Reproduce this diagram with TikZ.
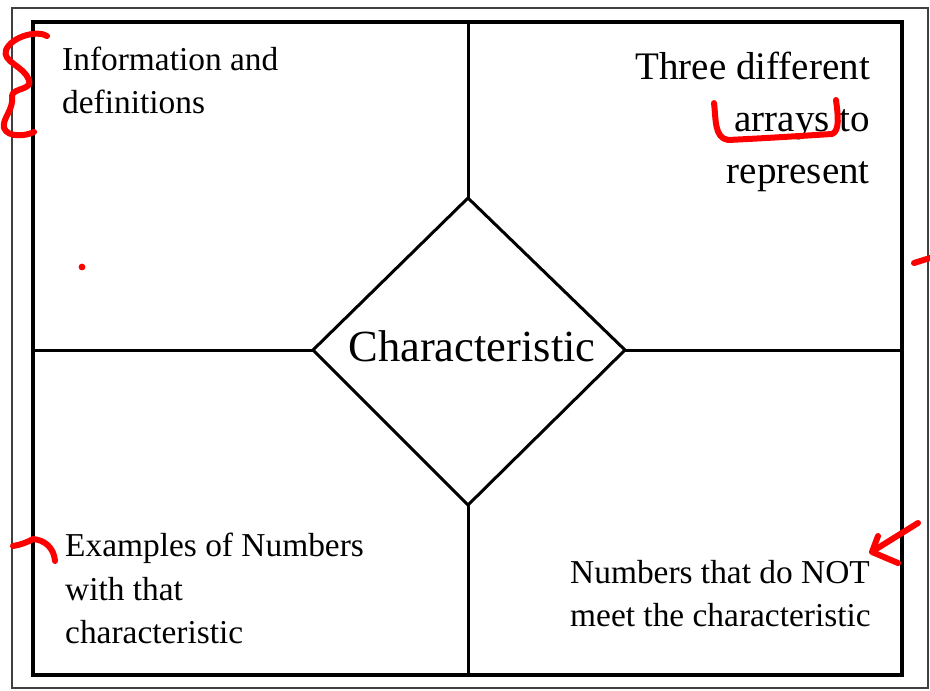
\documentclass[tikz,border=0pt]{standalone}
\usepackage{fontspec}
\setmainfont{Liberation Serif}
\begin{document}
\begin{tikzpicture}[x=1pt,y=-1pt,
  frame/.style={draw=black!75,line width=1.5pt},
  box/.style={draw=black,line width=4pt},
  grid/.style={draw=black,line width=3pt},
  ink/.style={draw=red,line width=6pt,line cap=round,line join=round},
  small/.style={font=\fontsize{33.4}{38}\selectfont,inner sep=0pt},
  big/.style={font=\fontsize{39}{45}\selectfont,inner sep=0pt},
  center/.style={font=\fontsize{44.5}{50}\selectfont,inner sep=0pt}]
\useasboundingbox[fill=white] (0,0) rectangle (930,691);
\draw[frame] (12,8) rectangle (928,688);
\draw[box] (33,22) rectangle (902,675);
\coordinate (T) at (468,22);
\coordinate (B) at (468,675);
\coordinate (L) at (33,350);
\coordinate (R) at (902,350);
\coordinate (dT) at (468,198);
\coordinate (dB) at (468,505);
\coordinate (dL) at (313,350);
\coordinate (dR) at (625,350);
\draw[grid] (T) -- (dT);
\draw[grid] (dB) -- (B);
\draw[grid] (L) -- (dL);
\draw[grid] (dR) -- (R);
\draw[grid,line join=miter] (dT) -- (dR) -- (dB) -- (dL) -- cycle;
\node[center,anchor=base] (c) at (472,361) {Characteristic};
\node[small,anchor=base west] (i1) at (62,70) {Information and};
\node[small,anchor=base west] (i2) at (62,113) {definitions};
\node[big,anchor=base east] (t1) at (870,79) {Three different};
\node[big,anchor=base east] (t2) at (870,131) {arrays to};
\node[big,anchor=base east] (t3) at (870,183) {represent};
\node[small,anchor=base west] (e1) at (65,556) {Examples of Numbers};
\node[small,anchor=base west] (e2) at (65,600) {with that};
\node[small,anchor=base west] (e3) at (65,643) {characteristic};
\node[small,anchor=base west] (n1) at (570,583) {Numbers that do NOT};
\node[small,anchor=base west] (n2) at (570,626) {meet the characteristic};
% red annotations
\draw[ink] (47,36) .. controls (38,30) and (12,36) .. (6,50)
  .. controls (2,62) and (24,66) .. (29,80)
  .. controls (33,90) and (12,88) .. (12,96)
  .. controls (14,110) and (2,118) .. (4,128)
  .. controls (8,138) and (26,136) .. (34,132);
\fill[red] (82,267) circle (3.4);
\draw[ink] (714,103) .. controls (716,118) and (714,138) .. (728,140)
  .. controls (770,138) and (815,135) .. (832,134)
  .. controls (840,131) and (838,115) .. (836,100);
\draw[ink] (13,546) .. controls (20,545) and (28,542) .. (33,539)
  .. controls (45,540) and (54,548) .. (55,561);
\draw[ink] (918,523) -- (873,551);
\draw[ink] (878,536) -- (872,552) -- (898,563);
\draw[ink] (914,263) -- (930,258);
\end{tikzpicture}
\end{document}
